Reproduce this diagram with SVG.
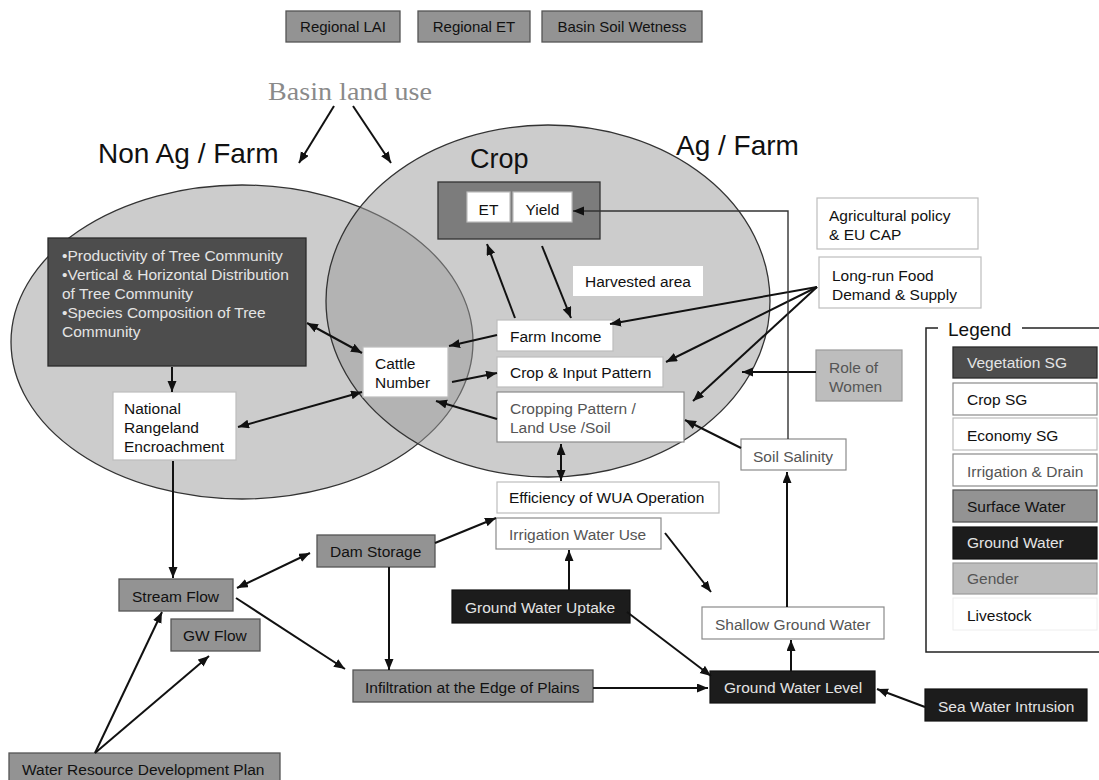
<svg xmlns="http://www.w3.org/2000/svg" width="1099" height="780" viewBox="0 0 1099 780">
<defs>
<marker id="ah" markerUnits="userSpaceOnUse" markerWidth="12" markerHeight="10" refX="11" refY="4.5" orient="auto-start-reverse" viewBox="0 0 12 10">
<path d="M0,0 L11,4.5 L0,9 z" fill="#111"/>
</marker>
<style>
.t{font-family:"Liberation Sans",Arial,sans-serif;font-size:15.5px;fill:#111}
.tg{fill:#555}
.tw{fill:#e4e4e4}
.big{font-size:28px}
.s15{font-size:15px}
.s19{font-size:19px}
.s27{font-size:27px}
.w{fill:#fff;stroke:#bdbdbd;stroke-width:1.2}
.wg{fill:#fff;stroke:#8a8a8a;stroke-width:1.2}
.g{fill:#939393;stroke:#555;stroke-width:1.3}
.d{fill:#1c1c1c;stroke:#111;stroke-width:1.2}
.v{fill:#4d4d4d;stroke:#2a2a2a;stroke-width:1.3}
.gen{fill:#bdbdbd;stroke:#9a9a9a;stroke-width:1.2}
.ell{fill:#9a9a9a;fill-opacity:0.5;stroke:#333;stroke-width:1.3}
.c{stroke:#111;stroke-width:2;fill:none}
.thin{stroke:#333;stroke-width:1.4;fill:none}
</style>
</defs>
<rect width="1099" height="780" fill="#fff"/>

<g id="ellipses">
<ellipse class="ell" cx="242" cy="342" rx="231" ry="157"/>
<ellipse class="ell" cx="548" cy="301" rx="222" ry="176"/>
</g>

<g id="titles">
<text x="268" y="100" font-family="'Liberation Serif','Times New Roman',serif" font-size="26" fill="#8a8a8a" textLength="164" lengthAdjust="spacingAndGlyphs">Basin land use</text>
<text class="t big" x="98" y="163">Non Ag / Farm</text>
<text class="t big" x="676" y="155">Ag / Farm</text>
<text class="t s27" x="470" y="168">Crop</text>
</g>

<g id="top-boxes">
<g id="regional-lai"><rect class="g" x="286" y="11" width="114" height="31"/><text class="t s15" x="343" y="32" text-anchor="middle">Regional LAI</text></g>
<g id="regional-et"><rect class="g" x="418" y="11" width="112" height="31"/><text class="t s15" x="474" y="32" text-anchor="middle">Regional ET</text></g>
<g id="basin-soil-wetness"><rect class="g" x="542" y="11" width="160" height="31"/><text class="t s15" x="622" y="32" text-anchor="middle">Basin Soil Wetness</text></g>
</g>

<g id="vegetation">
<rect class="v" x="48" y="238" width="258" height="128"/>
<text class="t tw" x="62" y="261">•Productivity of Tree Community</text>
<text class="t tw" x="62" y="280">•Vertical &amp; Horizontal Distribution</text>
<text class="t tw" x="62" y="298.5">of Tree Community</text>
<text class="t tw" x="62" y="318">•Species Composition of Tree</text>
<text class="t tw" x="62" y="337">Community</text>
</g>
<g id="cattle-number"><rect class="w" x="363" y="347" width="85" height="50"/><text class="t" x="375" y="368.5">Cattle</text><text class="t" x="375" y="388">Number</text></g>
<g id="national-rangeland"><rect class="w" x="113" y="392" width="123" height="68"/><text class="t" x="124" y="413.5">National</text><text class="t" x="124" y="432.5">Rangeland</text><text class="t" x="124" y="451.5">Encroachment</text></g>

<g id="crop-sg"><rect fill="#7c7c7c" stroke="#333" stroke-width="1.3" x="438" y="182" width="162" height="57"/></g>
<g id="et"><rect class="w" x="467" y="192" width="43" height="30"/><text class="t" x="488.5" y="214.5" text-anchor="middle">ET</text></g>
<g id="yield"><rect class="w" x="513" y="192" width="59" height="30"/><text class="t" x="542.5" y="214.5" text-anchor="middle">Yield</text></g>
<g id="harvested-area"><rect fill="#fff" x="573" y="266" width="130" height="30"/><text class="t" x="585" y="286.5">Harvested area</text></g>
<g id="farm-income"><rect class="w" x="497" y="320" width="116" height="31"/><text class="t" x="510" y="342">Farm Income</text></g>
<g id="crop-input-pattern"><rect class="w" x="497" y="357" width="166" height="30"/><text class="t" x="510" y="378">Crop &amp; Input Pattern</text></g>
<g id="cropping-pattern"><rect class="wg" x="497" y="392" width="187" height="50"/><text class="t tg" x="510" y="413.5">Cropping Pattern /</text><text class="t tg" x="510" y="433">Land Use /Soil</text></g>

<g id="agricultural-policy"><rect class="w" x="817" y="198" width="161" height="51"/><text class="t" x="829" y="220.5">Agricultural policy</text><text class="t" x="829" y="239.5">&amp; EU CAP</text></g>
<g id="long-run-food"><rect class="w" x="819" y="257" width="162" height="51"/><text class="t" x="832" y="280.5">Long-run Food</text><text class="t" x="832" y="299.5">Demand &amp; Supply</text></g>
<g id="role-of-women"><rect class="gen" x="816" y="350" width="86" height="51"/><text class="t tg" x="829" y="372.5">Role of</text><text class="t tg" x="829" y="392">Women</text></g>
<g id="soil-salinity"><rect class="wg" x="741" y="439" width="105" height="31"/><text class="t tg" x="753" y="461.5">Soil Salinity</text></g>

<g id="efficiency-wua"><rect class="w" x="497" y="482" width="222" height="31"/><text class="t" x="509" y="503">Efficiency of WUA Operation</text></g>
<g id="irrigation-water-use"><rect class="wg" x="496" y="518" width="165" height="31"/><text class="t tg" x="509" y="539.5">Irrigation Water Use</text></g>
<g id="dam-storage"><rect class="g" x="317" y="535" width="118" height="32"/><text class="t" x="330" y="557">Dam Storage</text></g>
<g id="stream-flow"><rect class="g" x="119" y="579" width="114" height="32"/><text class="t" x="132" y="602">Stream Flow</text></g>
<g id="gw-flow"><rect class="g" x="171" y="619" width="89" height="32"/><text class="t" x="183" y="641">GW Flow</text></g>
<g id="infiltration"><rect class="g" x="353" y="670" width="240" height="32"/><text class="t" x="365" y="692.5">Infiltration at the Edge of Plains</text></g>
<g id="water-resource-plan"><rect class="g" x="9" y="753" width="271" height="30"/><text class="t" x="22" y="774.5">Water Resource Development Plan</text></g>
<g id="ground-water-uptake"><rect class="d" x="452" y="590" width="178" height="33"/><text class="t tw" x="465" y="613">Ground Water Uptake</text></g>
<g id="shallow-ground-water"><rect class="wg" x="702" y="607" width="182" height="32"/><text class="t tg" x="715" y="629.5">Shallow Ground Water</text></g>
<g id="ground-water-level"><rect class="d" x="710" y="671" width="165" height="32"/><text class="t tw" x="724" y="693">Ground Water Level</text></g>
<g id="sea-water-intrusion"><rect class="d" x="925" y="689" width="162" height="32"/><text class="t tw" x="938" y="711.5">Sea Water Intrusion</text></g>

<g id="connectors">
<line class="c" x1="334" y1="106" x2="299" y2="163" marker-end="url(#ah)"/>
<line class="c" x1="353" y1="106" x2="391" y2="163" marker-end="url(#ah)"/>
<line class="c" x1="307" y1="323" x2="362" y2="353" marker-start="url(#ah)" marker-end="url(#ah)"/>
<line class="c" x1="362" y1="392" x2="238" y2="427" marker-start="url(#ah)" marker-end="url(#ah)"/>
<line class="c" x1="172" y1="367" x2="172" y2="392" marker-end="url(#ah)"/>
<line class="c" x1="173" y1="461" x2="173" y2="578" marker-end="url(#ah)"/>
<line class="c" x1="515" y1="318" x2="487" y2="244" marker-end="url(#ah)"/>
<line class="c" x1="542" y1="246" x2="571" y2="318" marker-end="url(#ah)"/>
<line class="c" x1="497" y1="335" x2="449" y2="346" marker-end="url(#ah)"/>
<line class="c" x1="452" y1="382" x2="497" y2="373" marker-end="url(#ah)"/>
<line class="c" x1="497" y1="419" x2="436" y2="401" marker-end="url(#ah)"/>
<line class="c" x1="817" y1="287" x2="610" y2="324" marker-end="url(#ah)"/>
<line class="c" x1="817" y1="287" x2="666" y2="362" marker-end="url(#ah)"/>
<line class="c" x1="817" y1="287" x2="693" y2="401" marker-end="url(#ah)"/>
<line class="c" x1="816" y1="372" x2="742" y2="372" marker-end="url(#ah)"/>
<line class="c" x1="741" y1="448" x2="685" y2="420" marker-end="url(#ah)"/>
<polyline class="thin" points="788,439 788,211 573,211" marker-end="url(#ah)"/>
<line class="c" x1="561" y1="444" x2="561" y2="481" marker-start="url(#ah)" marker-end="url(#ah)"/>
<line class="c" x1="435" y1="543" x2="496" y2="518" marker-end="url(#ah)"/>
<line class="c" x1="665" y1="533" x2="711" y2="592" marker-end="url(#ah)"/>
<line class="c" x1="569" y1="590" x2="569" y2="550" marker-end="url(#ah)"/>
<line class="c" x1="627" y1="612" x2="711" y2="676" marker-end="url(#ah)"/>
<line class="c" x1="593" y1="688" x2="708" y2="688" marker-end="url(#ah)"/>
<line class="c" x1="791" y1="671" x2="791" y2="640" marker-end="url(#ah)"/>
<line class="c" x1="787" y1="607" x2="787" y2="472" marker-end="url(#ah)"/>
<line class="c" x1="925" y1="707" x2="877" y2="689" marker-end="url(#ah)"/>
<line class="c" x1="237" y1="588" x2="310" y2="553" marker-start="url(#ah)" marker-end="url(#ah)"/>
<line class="c" x1="236" y1="598" x2="345" y2="669" marker-end="url(#ah)"/>
<line class="c" x1="389" y1="567" x2="389" y2="670" marker-end="url(#ah)"/>
<line class="c" x1="95" y1="753" x2="162" y2="612" marker-end="url(#ah)"/>
<line class="c" x1="95" y1="753" x2="209" y2="656" marker-end="url(#ah)"/>
</g>

<g id="legend">
<polyline points="938,328 926,328 926,652 1099,652" fill="none" stroke="#222" stroke-width="1.5"/>
<line x1="1022" y1="328" x2="1099" y2="328" stroke="#222" stroke-width="1.5"/>
<text class="t s19" x="948" y="336">Legend</text>
<rect class="v" x="953" y="347" width="144" height="31"/><text class="t tw" x="967" y="368">Vegetation SG</text>
<rect class="wg" x="953" y="383" width="144" height="32"/><text class="t" x="967" y="405">Crop SG</text>
<rect class="w" x="953" y="418" width="144" height="32"/><text class="t" x="967" y="441">Economy SG</text>
<rect class="wg" x="953" y="454" width="144" height="32"/><text class="t tg" x="967" y="477">Irrigation &amp; Drain</text>
<rect class="g" x="953" y="490" width="144" height="32"/><text class="t" x="967" y="512">Surface Water</text>
<rect class="d" x="953" y="527" width="144" height="32"/><text class="t tw" x="967" y="548">Ground Water</text>
<rect class="gen" x="953" y="563" width="144" height="31"/><text class="t tg" x="967" y="584">Gender</text>
<rect fill="#fff" stroke="#eeeeee" x="953" y="598" width="144" height="32"/><text class="t" x="967" y="621">Livestock</text>
</g>
</svg>
